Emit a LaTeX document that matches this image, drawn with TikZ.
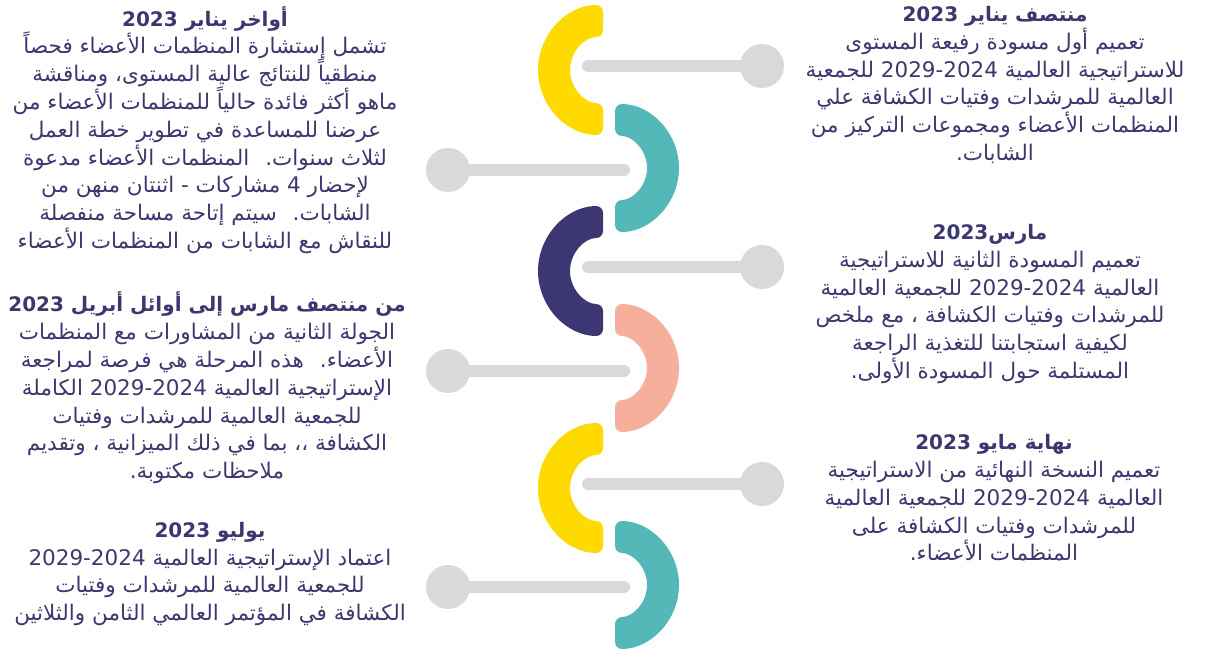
\documentclass[tikz,border=0pt]{standalone}
\usepackage{fontspec}
\newfontfamily\arabicfont[Script=Arabic]{DejaVu Sans}
\TeXXeTstate=1
\definecolor{capyellow}{HTML}{FFDA00}
\definecolor{capteal}{HTML}{54B8B9}
\definecolor{capnavy}{HTML}{3C3772}
\definecolor{capsalmon}{HTML}{F6AF9B}
\definecolor{linkgrey}{HTML}{D9D9D9}
\definecolor{inkblue}{HTML}{3B3870}
\newcommand\arline[1]{\beginR #1\endR}
\newcommand\arhead[1]{\beginR{\fontsize{20}{27.8}\selectfont\bfseries #1}\endR}

\begin{document}
\begin{tikzpicture}[x=1pt,y=-1pt]
\tikzstyle{dot}=[circle, fill=linkgrey, minimum size=44pt, inner sep=0pt]
\tikzstyle{link}=[draw=linkgrey, line width=12pt, line cap=round]
\tikzstyle{entry}=[text=inkblue, align=center, inner sep=0pt, font=\arabicfont\fontsize{21.5}{27.8}\selectfont]

\useasboundingbox (0,0) rectangle (1207,651);

\foreach \y/\c in {70/capyellow,271/capnavy,488/capyellow} {
\fill[\c, rounded corners=7pt] (603,\y-65) arc[start angle=270, end angle=90, radius=65]
  -- (603,\y+33) arc[start angle=90, end angle=270, radius=33] -- cycle;
}
\foreach \y/\c in {168/capteal,368/capsalmon,585/capteal} {
\fill[\c, rounded corners=7pt] (615,\y-64) arc[start angle=-90, end angle=90, radius=64]
  -- (615,\y+32) arc[start angle=90, end angle=-90, radius=32] -- cycle;
}

\foreach \i/\y in {1/66,2/267,3/484} {
\node[dot] (r\i) at (762,\y) {};
\coordinate (re\i) at (588,\y);
\draw[link] (re\i) -- (r\i);
}
\foreach \i/\y in {1/170,2/371,3/587} {
\node[dot] (l\i) at (448,\y) {};
\coordinate (le\i) at (624,\y);
\draw[link] (l\i) -- (le\i);
}

\node[entry] (latejan) at (205,130) {\arhead{أواخر يناير 2023}\\
\arline{تشمل إستشارة المنظمات الأعضاء فحصاً}\\
\arline{منطقياً للنتائج عالية المستوى، ومناقشة}\\
\arline{ماهو أكثر فائدة حالياً للمنظمات الأعضاء من}\\
\arline{عرضنا للمساعدة في تطوير خطة العمل}\\
\arline{لثلاث سنوات.~ المنظمات الأعضاء مدعوة}\\
\arline{لإحضار 4 مشاركات - اثنتان منهن من}\\
\arline{الشابات.~ سيتم إتاحة مساحة منفصلة}\\
\arline{للنقاش مع الشابات من المنظمات الأعضاء}};

\node[entry] (midmar) at (207,388) {\arhead{من منتصف مارس إلى أوائل أبريل 2023}\\
\arline{الجولة الثانية من المشاورات مع المنظمات}\\
\arline{الأعضاء.~ هذه المرحلة هي فرصة لمراجعة}\\
\arline{الإستراتيجية العالمية \beginL 2029-2024\endL{} الكاملة}\\
\arline{للجمعية العالمية للمرشدات وفتيات}\\
\arline{الكشافة ،، بما في ذلك الميزانية ، وتقديم}\\
\arline{ملاحظات مكتوبة.}};

\node[entry] (july) at (210,574) {\arhead{يوليو 2023}\\
\arline{اعتماد الإستراتيجية العالمية \beginL 2029-2024\endL{}}\\
\arline{للجمعية العالمية للمرشدات وفتيات}\\
\arline{الكشافة في المؤتمر العالمي الثامن والثلاثين}};

\node[entry] (midjan) at (995,85) {\arhead{منتصف يناير 2023}\\
\arline{تعميم أول مسودة رفيعة المستوى}\\
\arline{للاستراتيجية العالمية \beginL 2029-2024\endL{} للجمعية}\\
\arline{العالمية للمرشدات وفتيات الكشافة علي}\\
\arline{المنظمات الأعضاء ومجموعات التركيز من}\\
\arline{الشابات.}};

\node[entry] (march) at (990,304) {\arhead{مارس\beginL 2023\endL}\\
\arline{تعميم المسودة الثانية للاستراتيجية}\\
\arline{العالمية \beginL 2029-2024\endL{} للجمعية العالمية}\\
\arline{للمرشدات وفتيات الكشافة ، مع ملخص}\\
\arline{لكيفية استجابتنا للتغذية الراجعة}\\
\arline{المستلمة حول المسودة الأولى.}};

\node[entry] (endmay) at (994,498) {\arhead{نهاية مايو 2023}\\
\arline{تعميم النسخة النهائية من الاستراتيجية}\\
\arline{العالمية \beginL 2029-2024\endL{} للجمعية العالمية}\\
\arline{للمرشدات وفتيات الكشافة على}\\
\arline{المنظمات الأعضاء.}};

\end{tikzpicture}
\end{document}
